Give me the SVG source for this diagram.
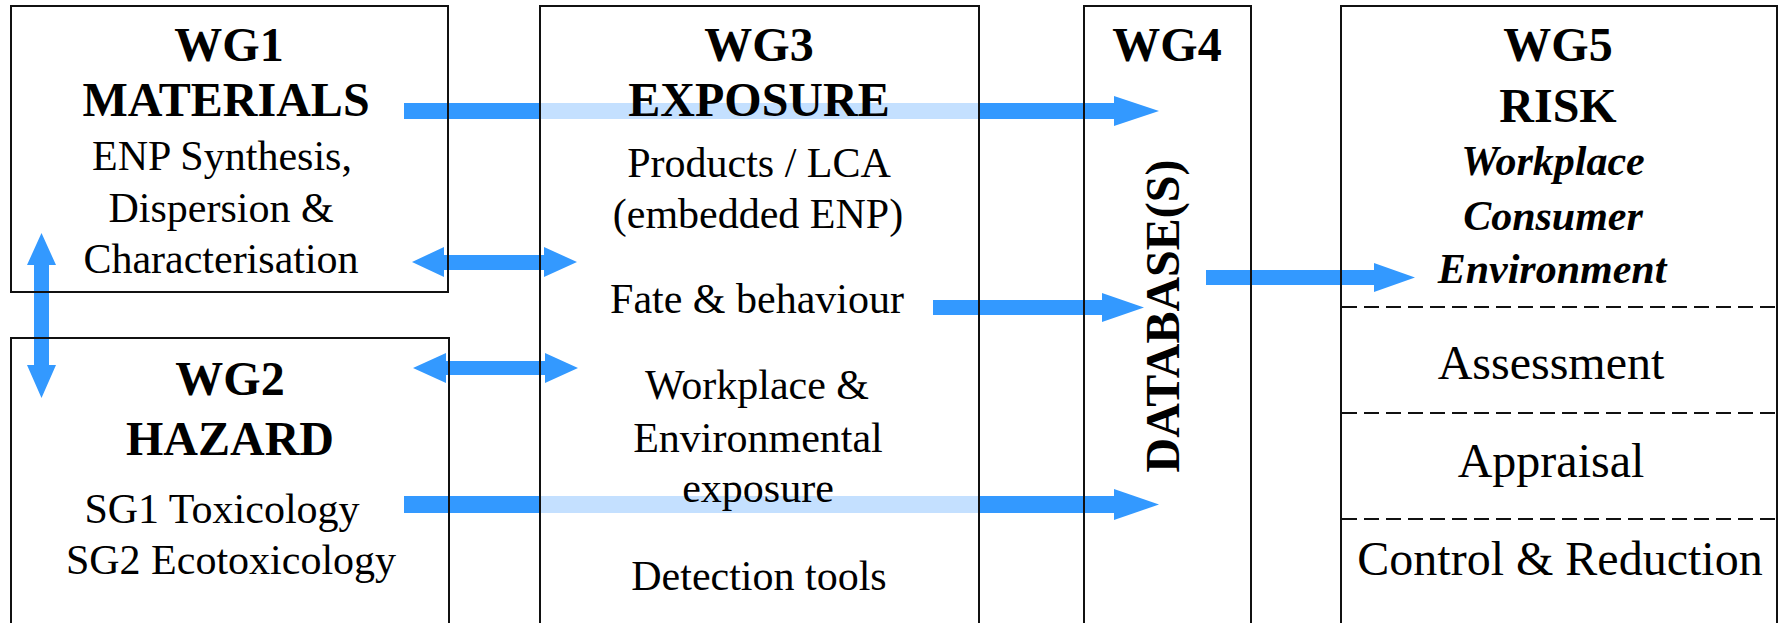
<svg xmlns="http://www.w3.org/2000/svg" width="1789" height="623" viewBox="0 0 1789 623">
  <style>
    .frame { fill: none; stroke: #111; stroke-width: 2; }
    .divider { fill: none; stroke: #111; stroke-width: 2; stroke-dasharray: 15 7; }
    .arrow { fill: #3399ff; }
    .under { fill: #c4e0ff; }
    .head { font-family: "Liberation Serif", "Times New Roman", serif; font-weight: bold; font-size: 48px; text-anchor: middle; fill: #000; }
    .body { font-family: "Liberation Serif", "Times New Roman", serif; font-size: 42px; text-anchor: middle; fill: #000; }
    .step { font-family: "Liberation Serif", "Times New Roman", serif; font-size: 48px; text-anchor: middle; fill: #000; }
    .topic { font-family: "Liberation Serif", "Times New Roman", serif; font-weight: bold; font-style: italic; font-size: 42px; text-anchor: middle; fill: #000; }
  </style>

  <rect width="1789" height="623" fill="#fff"/>

  <!-- connectors sit underneath the node frames and labels -->
  <g id="connectors">
    <!-- WG1 -> WG4 (passes behind WG3) -->
    <rect class="arrow" x="404" y="103" width="711" height="16"/>
    <rect class="under" x="541" y="103" width="437" height="16"/>
    <polygon class="arrow" points="1114,96 1159,111 1114,126"/>

    <!-- WG2 -> WG4 (passes behind WG3) -->
    <rect class="arrow" x="404" y="496" width="711" height="17"/>
    <rect class="under" x="541" y="496" width="437" height="17"/>
    <polygon class="arrow" points="1114,489 1159,504.5 1114,520"/>

    <!-- Fate & behaviour -> WG4 -->
    <polygon class="arrow" points="933,300 1102,300 1102,293 1144,307.5 1102,322 1102,315 933,315"/>

    <!-- WG4 -> WG5 -->
    <polygon class="arrow" points="1206,270 1374,270 1374,263 1415,277.5 1374,292 1374,285 1206,285"/>

    <!-- WG1 <-> WG3 -->
    <polygon class="arrow" points="412,262 444,247 444,255 544,255 544,247 577,262 544,277 544,270 444,270 444,277"/>

    <!-- WG2 <-> WG3 -->
    <polygon class="arrow" points="413,368 446,353 446,361 545,361 545,353 578,368 545,383 545,375 446,375 446,383"/>

    <!-- WG1 <-> WG2 -->
    <polygon class="arrow" points="41.5,233 56,265 49,265 49,365 56,365 41.5,398 27,365 34,365 34,265 27,265"/>
  </g>

  <g id="wg1">
    <rect class="frame" x="11" y="6" width="437" height="286"/>
    <text class="head" x="229" y="61">WG1</text>
    <text class="head" x="226" y="116">MATERIALS</text>
    <text class="body" x="222" y="170">ENP Synthesis,</text>
    <text class="body" x="221" y="222">Dispersion &amp;</text>
    <text class="body" x="221" y="273">Characterisation</text>
  </g>

  <g id="wg2">
    <path class="frame" d="M11,630 V338 H449 V630"/>
    <text class="head" x="230" y="395">WG2</text>
    <text class="head" x="230" y="455">HAZARD</text>
    <text class="body" x="222" y="523">SG1 Toxicology</text>
    <text class="body" x="231" y="574">SG2 Ecotoxicology</text>
  </g>

  <g id="wg3">
    <path class="frame" d="M540,630 V6 H979 V630"/>
    <text class="head" x="759" y="61">WG3</text>
    <text class="head" x="759" y="116">EXPOSURE</text>
    <text class="body" x="759" y="177">Products / LCA</text>
    <text class="body" x="758" y="228">(embedded ENP)</text>
    <text class="body" x="757" y="313">Fate &amp; behaviour</text>
    <text class="body" x="757" y="399">Workplace &amp;</text>
    <text class="body" x="758" y="452">Environmental</text>
    <text class="body" x="758" y="502">exposure</text>
    <text class="body" x="759" y="590">Detection tools</text>
  </g>

  <g id="wg4">
    <path class="frame" d="M1084,630 V6 H1251 V630"/>
    <text class="head" x="1167" y="61">WG4</text>
    <text class="head" transform="translate(1179,316) rotate(-90)">DATABASE(S)</text>
  </g>

  <g id="wg5">
    <path class="frame" d="M1341,630 V6 H1777 V630"/>
    <text class="head" x="1558" y="61">WG5</text>
    <text class="head" x="1558" y="122">RISK</text>
    <text class="topic" x="1553" y="175">Workplace</text>
    <text class="topic" x="1553" y="230">Consumer</text>
    <text class="topic" x="1552" y="283">Environment</text>
    <line class="divider" x1="1342" y1="307" x2="1776" y2="307"/>
    <text class="step" x="1551" y="379">Assessment</text>
    <line class="divider" x1="1342" y1="413" x2="1776" y2="413"/>
    <text class="step" x="1551" y="477">Appraisal</text>
    <line class="divider" x1="1342" y1="519" x2="1776" y2="519"/>
    <text class="step" x="1560" y="575">Control &amp; Reduction</text>
  </g>
</svg>
